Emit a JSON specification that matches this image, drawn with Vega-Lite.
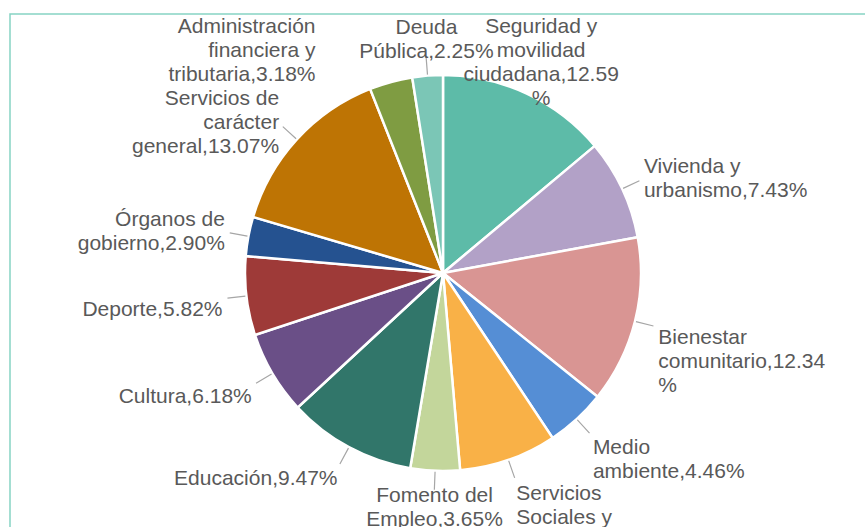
{
  "$schema": "https://vega.github.io/schema/vega-lite/v6.json",
  "width": 866,
  "height": 518,
  "autosize": "none",
  "padding": {"left": 10, "top": 14, "right": 0, "bottom": 0},
  "background": "white",
  "config": {"view": {"stroke": null}},
  "data": {
    "values": [
      {"cat": "Seguridad y movilidad ciudadana", "label": "Seguridad y\nmovilidad\nciudadana,12.59\n%", "value": 12.59, "orden": 1},
      {"cat": "Vivienda y urbanismo", "label": "Vivienda y\nurbanismo,7.43%", "value": 7.43, "orden": 2},
      {"cat": "Bienestar comunitario", "label": "Bienestar\ncomunitario,12.34\n%", "value": 12.34, "orden": 3},
      {"cat": "Medio ambiente", "label": "Medio\nambiente,4.46%", "value": 4.46, "orden": 4},
      {"cat": "Servicios Sociales y Promoción Social", "label": "Servicios\nSociales y\nPromoción\nSocial,7.20%", "value": 7.2, "orden": 5},
      {"cat": "Fomento del Empleo", "label": "Fomento del\nEmpleo,3.65%", "value": 3.65, "orden": 6},
      {"cat": "Educación", "label": "Educación,9.47%", "value": 9.47, "orden": 7},
      {"cat": "Cultura", "label": "Cultura,6.18%", "value": 6.18, "orden": 8},
      {"cat": "Deporte", "label": "Deporte,5.82%", "value": 5.82, "orden": 9},
      {"cat": "Órganos de gobierno", "label": "Órganos de\ngobierno,2.90%", "value": 2.9, "orden": 10},
      {"cat": "Servicios de carácter general", "label": "Servicios de\ncarácter\ngeneral,13.07%", "value": 13.07, "orden": 11},
      {"cat": "Administración financiera y tributaria", "label": "Administración\nfinanciera y\ntributaria,3.18%", "value": 3.18, "orden": 12},
      {"cat": "Deuda Pública", "label": "Deuda\nPública,2.25%", "value": 2.25, "orden": 13}
    ]
  },
  "layer": [
    {
      "data": {"values": [{}]},
      "mark": {"type": "rect", "filled": false, "stroke": "#86D3C3", "strokeWidth": 1.5},
      "encoding": {}
    },
    {
      "mark": {"type": "arc", "radius": 198, "stroke": "white", "strokeWidth": 2.5},
      "encoding": {
        "theta": {"field": "value", "type": "quantitative", "stack": true, "scale": {"zero": true, "nice": false}},
        "order": {"field": "orden", "type": "quantitative"},
        "color": {
          "field": "cat",
          "type": "nominal",
          "legend": null,
          "scale": {
            "domain": ["Seguridad y movilidad ciudadana", "Vivienda y urbanismo", "Bienestar comunitario", "Medio ambiente", "Servicios Sociales y Promoción Social", "Fomento del Empleo", "Educación", "Cultura", "Deporte", "Órganos de gobierno", "Servicios de carácter general", "Administración financiera y tributaria", "Deuda Pública"],
            "range": ["#5DBBA8", "#B2A1C7", "#D99593", "#558ED5", "#F9B147", "#C3D69B", "#31766A", "#6A4F87", "#9E3A38", "#255290", "#BE7404", "#7F9C42", "#7BC6B6"]
          }
        }
      }
    },
    {
      "transform": [
        {"stack": "value", "groupby": [], "sort": [{"field": "orden", "order": "ascending"}], "as": ["s", "e"]},
        {"fold": ["s", "e"], "as": ["k", "v"]},
        {"aggregate": [{"op": "mean", "field": "v", "as": "mid"}], "groupby": ["cat"]},
        {"filter": {"not": {"field": "cat", "oneOf": ["Seguridad y movilidad ciudadana", "Administración financiera y tributaria"]}}}
      ],
      "mark": {"type": "arc", "radius": 217, "radius2": 199, "filled": false, "stroke": "#A6A6A6", "strokeWidth": 1.2},
      "encoding": {
        "theta": {"field": "mid", "type": "quantitative", "scale": {"zero": true, "nice": false}},
        "theta2": {"field": "mid"}
      }
    },
    {
      "transform": [
        {"joinaggregate": [{"op": "sum", "field": "value", "as": "total"}]},
        {"stack": "value", "groupby": [], "sort": [{"field": "orden", "order": "ascending"}], "as": ["s", "e"]},
        {"fold": ["s", "e"], "as": ["k", "v"]},
        {"aggregate": [{"op": "mean", "field": "v", "as": "mid"}], "groupby": ["cat", "label", "total"]}
      ],
      "mark": {
        "type": "text",
        "font": "Liberation Sans",
        "fontSize": 21,
        "lineHeight": 24,
        "lineBreak": "\n",
        "fill": "#595959",
        "radius": {"expr": "datum.mid/datum.total < 0.09 ? 232 : (datum.mid/datum.total > 0.97 ? 212 : (abs(datum.mid/datum.total - 0.5) < 0.03 ? 212 : 222))"},
        "align": {"expr": "(datum.mid/datum.total < 0.09 || datum.mid/datum.total > 0.97 || abs(datum.mid/datum.total - 0.5) < 0.03) ? 'center' : (datum.mid/datum.total < 0.5 ? 'left' : 'right')"},
        "baseline": {"expr": "datum.mid/datum.total > 0.97 ? 'bottom' : ((datum.mid/datum.total > 0.25 && datum.mid/datum.total < 0.75) ? 'top' : 'middle')"},
        "dx": {"expr": "datum.cat === 'Administración financiera y tributaria' ? -69 : 0"},
        "dy": {"expr": "(datum.mid/datum.total > 0.97 ? -24 : ((datum.mid/datum.total > 0.25 && datum.mid/datum.total < 0.75) ? 0 : -12)) * (length(split(datum.label, '\\n')) - 1) + (datum.cat === 'Administración financiera y tributaria' ? -8 : 0)"}
      },
      "encoding": {
        "theta": {"field": "mid", "type": "quantitative", "scale": {"zero": true, "nice": false}},
        "text": {"field": "label"}
      }
    }
  ]
}
